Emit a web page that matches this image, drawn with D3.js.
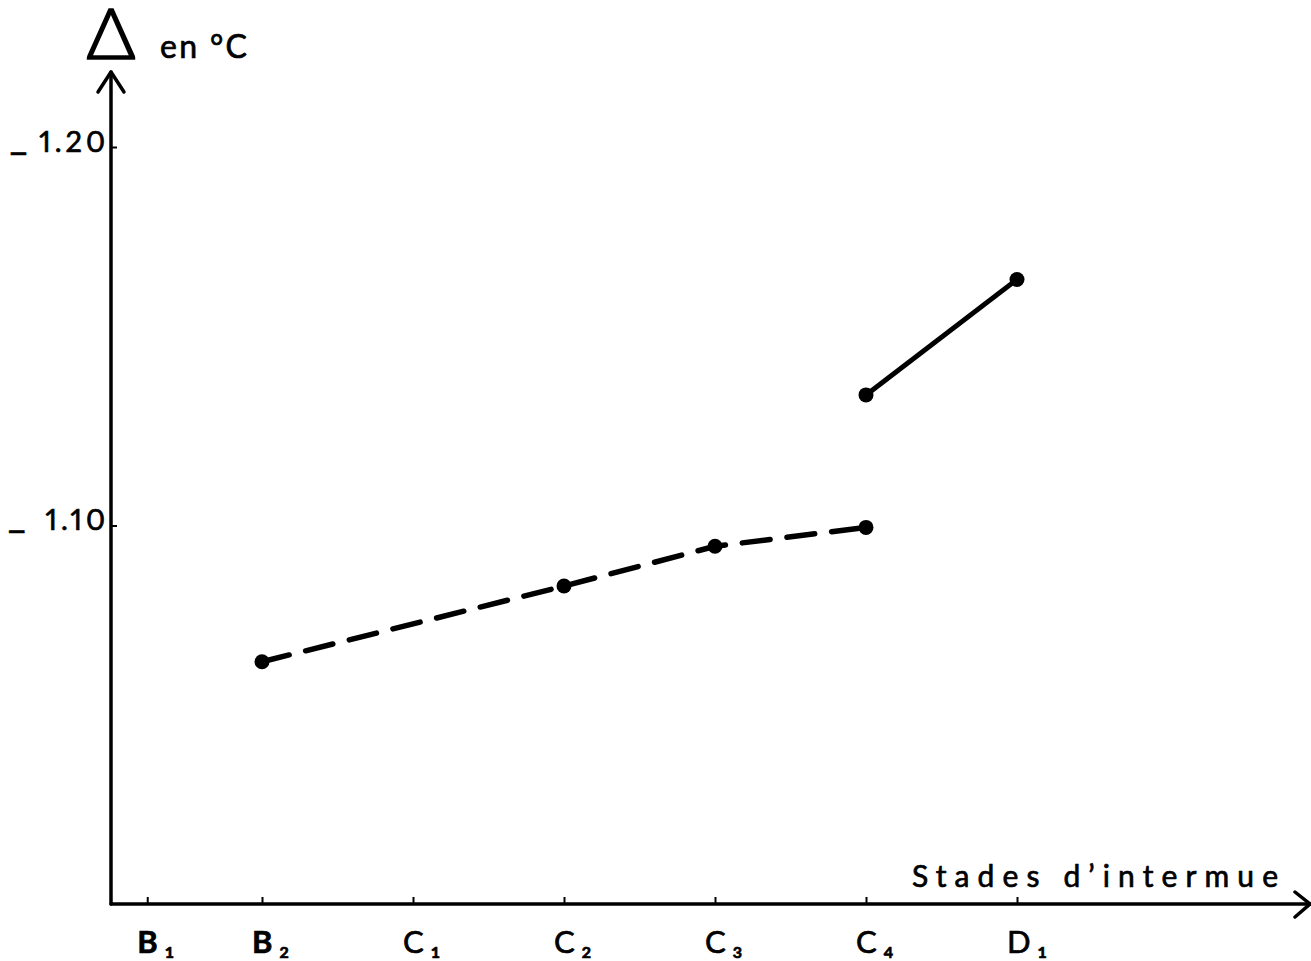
<!DOCTYPE html>
<html>
<head>
<meta charset="utf-8">
<script src="https://cdn.jsdelivr.net/npm/d3@7/dist/d3.min.js"></script>
<style>
  html, body { margin: 0; padding: 0; background: #fff; }
  svg { display: block; }
  text { font-family: Lato, "Open Sans", "DejaVu Sans", sans-serif; fill: #000; stroke: #000; stroke-width: 0.7px; }
</style>
</head>
<body>
<svg id="chart" width="1311" height="961"></svg>
<script>
// ---- data ----
const stageLetters = ["B", "B", "C", "C", "C", "C", "D"];
const stageSubs    = ["1", "2", "1", "2", "3", "4", "1"];
const stagePos     = [0.24, 1, 2, 3, 4, 5, 6];

const dashedStagePos = [1, 3, 4, 5];              // B2, C2, C3, C4
const dashedValues   = [1.064, 1.084, 1.0945, 1.0995];
const solidStagePos  = [5, 6];                    // C4, D1
const solidValues    = [1.1345, 1.165];

const yTickValues = [1.10, 1.20];
const yTickLabels = ["_ 1.10", "_1.20"];

const yTitleSymbol = "\u0394";
const yTitleText = "en \u00B0C";
const xTitle = "Stades d\u2019intermue";

// ---- scales ----
const x = d3.scaleLinear().domain([0, 1200 / 151]).range([111, 1311]);
const y = d3.scaleLinear().domain([1.0, 1.2]).range([904, 147]);

const svg = d3.select("#chart");

// ---- x axis ----
const xAxis = d3.axisBottom(x)
  .tickValues(stagePos)
  .tickSize(-7)
  .tickFormat("");
const gx = svg.append("g")
  .attr("transform", `translate(0,${y(1.0)})`)
  .call(xAxis);
gx.select(".domain").remove();
gx.selectAll(".tick line").attr("stroke", "#000").attr("stroke-width", 2);

// axis lines with arrows
const axisG = svg.append("g").attr("stroke", "#000").attr("fill", "none")
  .attr("stroke-linecap", "round").attr("stroke-linejoin", "round");
const x0 = x(0), y0 = y(1.0), xEnd = x.range()[1] - 1, yTop = y(1.2) - 75;
axisG.append("line").attr("x1", x0).attr("y1", y0).attr("x2", xEnd).attr("y2", y0)
  .attr("stroke-width", 3.5);
axisG.append("polyline")
  .attr("points", `${xEnd - 15},${y0 - 12} ${xEnd},${y0} ${xEnd - 15},${y0 + 13}`)
  .attr("stroke-width", 3.5);
axisG.append("line").attr("x1", x0).attr("y1", y0).attr("x2", x0).attr("y2", yTop)
  .attr("stroke-width", 3.5);
axisG.append("polyline")
  .attr("points", `${x0 - 13},${yTop + 20} ${x0},${yTop} ${x0 + 13},${yTop + 20}`)
  .attr("stroke-width", 3.5);

// stage labels
const lab = svg.append("g");
stagePos.forEach((p, i) => {
  const t = lab.append("text")
    .attr("x", x(p) - 10)
    .attr("y", y0 + 49)
    .style("font-size", "31px")
    .style("font-weight", stageLetters[i] === "B" ? 700 : 400);
  t.append("tspan").text(stageLetters[i]);
  t.append("tspan").attr("dx", 7).attr("dy", 5)
    .style("font-size", "16px").style("font-weight", 700).text(stageSubs[i]);
});

// x title
svg.append("text")
  .attr("x", 912).attr("y", 887)
  .attr("textLength", 366).attr("lengthAdjust", "spacing")
  .style("font-size", "30px")
  .text(xTitle);

// ---- y axis ticks ----
const yAxis = d3.axisLeft(y)
  .tickValues(yTickValues)
  .tickSize(-6)
  .tickPadding(2)
  .tickFormat((d, i) => yTickLabels[i]);
const gy = svg.append("g").attr("transform", `translate(${x0},0)`).call(yAxis);
gy.select(".domain").remove();
gy.selectAll(".tick line").attr("stroke", "#000").attr("stroke-width", 2);
gy.selectAll(".tick text")
  .attr("dy", null)
  .style("font-size", "29px")
  .style("font-family", "Lato, 'Open Sans', sans-serif")
  .style("font-feature-settings", "'pnum' 1")
  .attr("fill", "#000")
  .each(function () {
    const s = d3.select(this);
    const full = s.text();
    const dash = full.charAt(0);
    const rest = full.slice(1).trim();
    const gap = full.charAt(1) === " " ? 20 : 12;
    s.text(null);
    s.append("tspan").attr("dy", 1).style("font-size", "38px")
      .style("letter-spacing", "0px").text(dash);
    s.append("tspan").attr("dy", 3).attr("dx", gap)
      .style("letter-spacing", "4px").text(rest);
  });

// y title
svg.append("text")
  .attr("x", x0).attr("y", 59)
  .attr("text-anchor", "middle")
  .attr("transform", `translate(${x0},0) scale(1.08,1) translate(${-x0},0)`)
  .style("font-size", "70px")
  .style("font-weight", 300)
  .style("stroke-width", "1.6px")
  .text(yTitleSymbol);
svg.append("text")
  .attr("x", 160).attr("y", 58)
  .attr("textLength", 87).attr("lengthAdjust", "spacing")
  .style("font-size", "32px")
  .text(yTitleText);

// ---- series ----
const dashedData = dashedStagePos.map((p, i) => ({ p, v: dashedValues[i] }));
const solidData = solidStagePos.map((p, i) => ({ p, v: solidValues[i] }));
const line = d3.line().x(d => x(d.p)).y(d => y(d.v));

svg.append("path").datum(dashedData)
  .attr("d", line)
  .attr("fill", "none").attr("stroke", "#000")
  .attr("stroke-width", 5.5)
  .attr("stroke-linecap", "round")
  .attr("stroke-dasharray", "28 17");

svg.append("path").datum(solidData)
  .attr("d", line)
  .attr("fill", "none").attr("stroke", "#000")
  .attr("stroke-width", 5);

svg.append("g").selectAll("circle")
  .data(dashedData.concat(solidData))
  .join("circle")
  .attr("cx", d => x(d.p)).attr("cy", d => y(d.v))
  .attr("r", 7.5).attr("fill", "#000");
</script>
</body>
</html>
